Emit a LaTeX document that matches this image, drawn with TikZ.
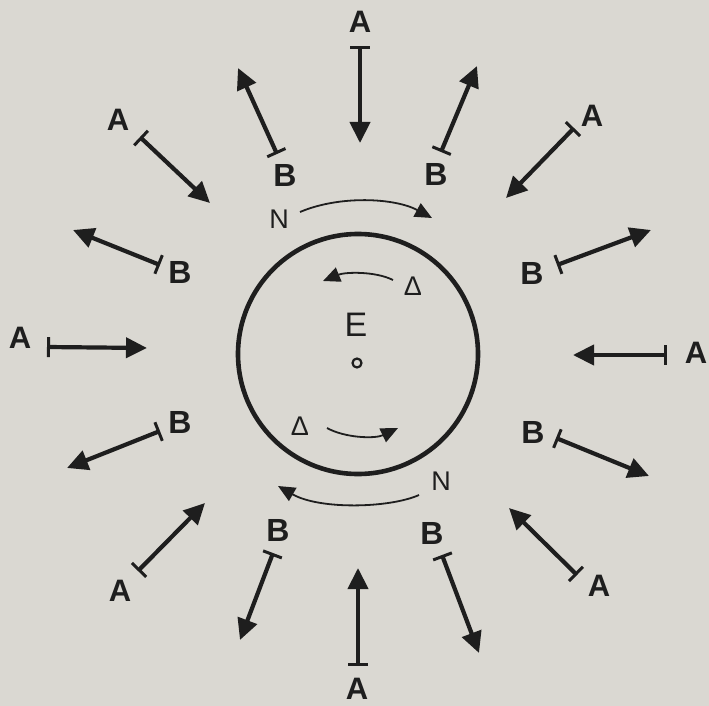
\documentclass[tikz,border=0pt]{standalone}
\usepackage{fontspec}
\setmainfont{Liberation Sans}
\usetikzlibrary{arrows.meta}
\definecolor{paper}{RGB}{218,216,210}
\definecolor{ink}{RGB}{30,30,30}
\begin{document}
\begin{tikzpicture}[x=1pt,y=-1pt,
  ray/.style={draw=ink,line width=4.2pt,{Bar[width=20pt,line width=3pt]}-{Triangle[length=21pt,width=20pt]}},
  flow/.style={draw=ink,line width=1.8pt,-{Triangle[length=17pt,width=15pt]}},
  lblA/.style={text=ink,font=\bfseries\fontsize{31}{31}\selectfont,inner sep=0pt},
  lblB/.style={text=ink,font=\bfseries\fontsize{32}{32}\selectfont,inner sep=0pt},
  lblN/.style={text=ink,font=\fontsize{27}{27}\selectfont,inner sep=0pt},
  lblD/.style={text=ink,font=\fontsize{27}{27}\selectfont,inner sep=0pt}]
\fill[paper] (0,0) rectangle (709,706);
\useasboundingbox (0,0) rectangle (709,706);

% central body
\node[draw=ink,line width=4.6pt,circle,minimum size=240pt,inner sep=0pt] (earth) at (358,354) {};
\node[text=ink,font=\fontsize{34}{34}\selectfont,inner sep=0pt] (E) at (356,325) {E};
\node[draw=ink,line width=2.2pt,circle,minimum size=9pt,inner sep=0pt] (dot) at (357,363) {};

% rays: bar end b, tip h, label l
\coordinate (b1) at (360,46);  \coordinate (h1) at (360,143); \node[lblA] (l1) at (360,22) {A};
\coordinate (b2) at (277,154); \coordinate (h2) at (238,68);  \node[lblB] (l2) at (285,175) {B};
\coordinate (b3) at (441,152); \coordinate (h3) at (477,66);  \node[lblB] (l3) at (436,174) {B};
\coordinate (b4) at (140,137); \coordinate (h4) at (210,203); \node[lblA] (l4) at (118,120) {A};
\coordinate (b5) at (574,128); \coordinate (h5) at (506,198); \node[lblA] (l5) at (592,116) {A};
\coordinate (b6) at (160,265); \coordinate (h6) at (73,230);  \node[lblB] (l6) at (180,272) {B};
\coordinate (b7) at (557,265); \coordinate (h7) at (651,230); \node[lblB] (l7) at (532,273) {B};
\coordinate (b8) at (47,347);  \coordinate (h8) at (147,348); \node[lblA] (l8) at (20,338) {A};
\coordinate (b9) at (667,355); \coordinate (h9) at (573,355); \node[lblA] (l9) at (696,353) {A};
\coordinate (b10) at (160,431); \coordinate (h10) at (67,468); \node[lblB] (l10) at (180,422) {B};
\coordinate (b11) at (556,438); \coordinate (h11) at (649,476); \node[lblB] (l11) at (533,432) {B};
\coordinate (b12) at (138,571); \coordinate (h12) at (205,503); \node[lblA] (l12) at (120,591) {A};
\coordinate (b13) at (577,575); \coordinate (h13) at (509,508); \node[lblA] (l13) at (599,586) {A};
\coordinate (b14) at (273,553); \coordinate (h14) at (240,640); \node[lblB] (l14) at (278,530) {B};
\coordinate (b15) at (442,555); \coordinate (h15) at (479,653); \node[lblB] (l15) at (432,533) {B};
\coordinate (b16) at (358,666); \coordinate (h16) at (358,568); \node[lblA] (l16) at (357,689) {A};

\foreach \i in {1,...,16} { \draw[ray] (b\i) -- (h\i); }

% N flows outside the circle
\node[lblN] (n1) at (279,219) {N};
\coordinate (n1s) at (300,212); \coordinate (n1e) at (432,218);
\draw[flow] (n1s) .. controls (340,195) and (395,198) .. (n1e);
\node[lblN] (n2) at (441,481) {N};
\coordinate (n2s) at (419,495); \coordinate (n2e) at (278,486);
\draw[flow] (n2s) .. controls (390,508) and (320,510) .. (n2e);

% Delta flows inside the circle
\node[lblD] (d1) at (413,286) {Δ};
\coordinate (d1s) at (393,280); \coordinate (d1e) at (323,281);
\draw[flow] (d1s) .. controls (375,271) and (345,272) .. (d1e);
\node[lblD] (d2) at (300,426) {Δ};
\coordinate (d2s) at (327,428); \coordinate (d2e) at (398,428);
\draw[flow] (d2s) .. controls (345,438) and (375,439) .. (d2e);
\end{tikzpicture}
\end{document}
